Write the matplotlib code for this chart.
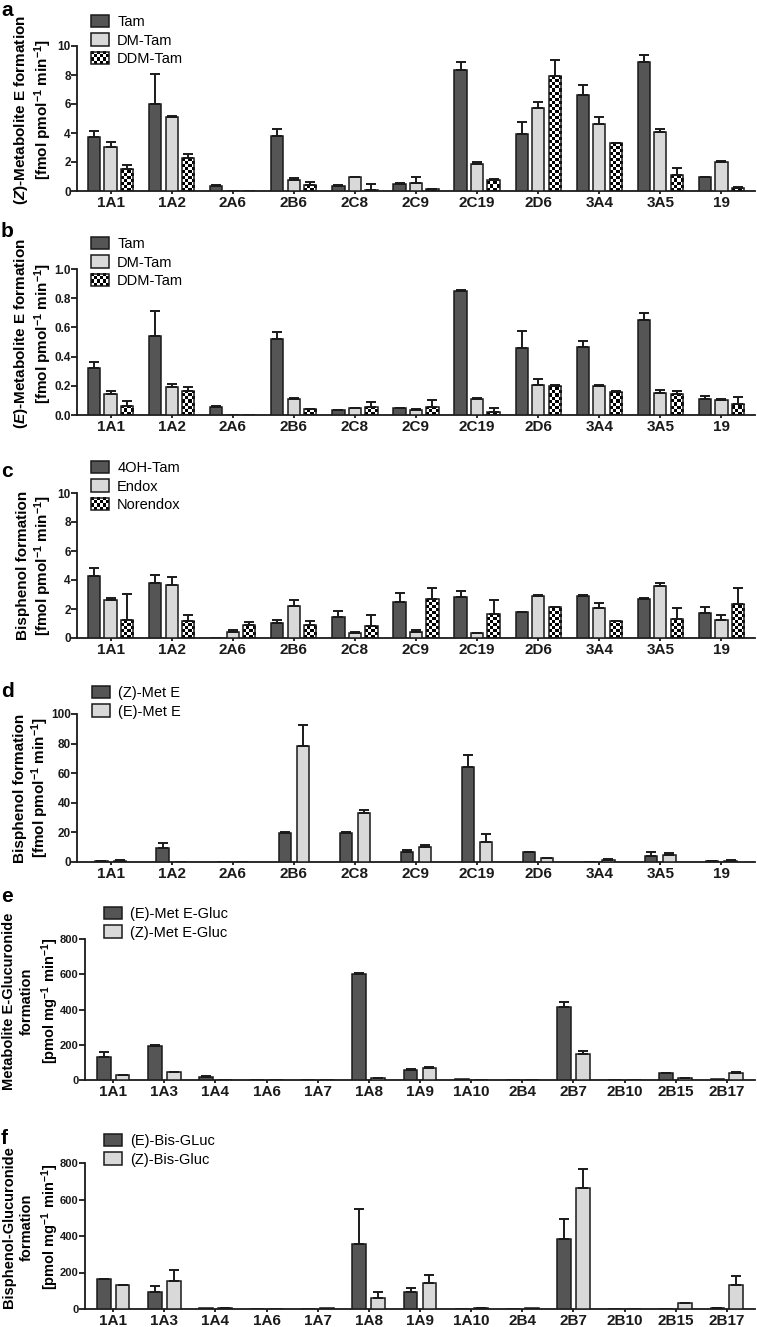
import numpy as np
import matplotlib
matplotlib.use("Agg")
import matplotlib.pyplot as plt
from matplotlib.patches import Rectangle, Patch
from matplotlib.image import BboxImage
from matplotlib.transforms import Bbox, TransformedBbox
from matplotlib.legend_handler import HandlerPatch
from matplotlib.colors import Normalize

plt.rcParams["font.family"] = ["Liberation Sans", "DejaVu Sans"]
plt.rcParams["mathtext.fontset"] = "custom"
plt.rcParams["mathtext.rm"] = "Liberation Sans:bold"
plt.rcParams["mathtext.bf"] = "Liberation Sans:bold"
plt.rcParams["mathtext.it"] = "Liberation Sans:italic:bold"
plt.rcParams["mathtext.default"] = "bf"

DARK = "#555555"
LIGHT = "#d9d9d9"
EDGE = "#1a1a1a"
W, H = 757, 1327

# ── data ─────────────────────────────────────────────────────────────
cyp = ["1A1", "1A2", "2A6", "2B6", "2C8", "2C9", "2C19", "2D6", "3A4", "3A5", "19"]
ugt = ["1A1", "1A3", "1A4", "1A6", "1A7", "1A8", "1A9", "1A10", "2B4", "2B7", "2B10", "2B15", "2B17"]

# a: (Z)-metabolite E formation
a_tam = [3.69, 6.03, 0.34, 3.81, 0.34, 0.50, 8.37, 3.90, 6.60, 8.92, 0.96]
a_tam_sd = [0.46, 2.02, 0.04, 0.46, 0.04, 0.03, 0.51, 0.89, 0.74, 0.48, 0.03]
a_dm = [3.05, 5.11, 0.02, 0.73, 0.96, 0.55, 1.86, 5.69, 4.63, 4.10, 2.00]
a_dm_sd = [0.35, 0.09, 0.0, 0.17, 0.03, 0.45, 0.11, 0.43, 0.46, 0.17, 0.05]
a_ddm = [1.49, 2.27, 0.02, 0.39, 0.10, 0.14, 0.76, 7.96, 3.28, 1.12, 0.23]
a_ddm_sd = [0.30, 0.28, 0.0, 0.21, 0.40, 0.02, 0.05, 1.10, 0.03, 0.44, 0.03]

# b: (E)-metabolite E formation
b_tam = [0.32, 0.54, 0.055, 0.52, 0.034, 0.045, 0.847, 0.462, 0.465, 0.648, 0.11]
b_tam_sd = [0.04, 0.17, 0.004, 0.047, 0.003, 0.006, 0.011, 0.11, 0.045, 0.05, 0.02]
b_dm = [0.142, 0.195, 0.002, 0.11, 0.048, 0.032, 0.112, 0.206, 0.201, 0.153, 0.10]
b_dm_sd = [0.023, 0.018, 0.0, 0.005, 0.002, 0.008, 0.002, 0.039, 0.002, 0.019, 0.01]
b_ddm = [0.062, 0.165, 0.002, 0.039, 0.057, 0.053, 0.023, 0.20, 0.158, 0.144, 0.076]
b_ddm_sd = [0.036, 0.03, 0.0, 0.003, 0.035, 0.05, 0.023, 0.005, 0.007, 0.023, 0.05]

# c: bisphenol formation from 4OH-Tam / Endox / Norendox
c_oh = [4.28, 3.80, 0.02, 1.03, 1.42, 2.47, 2.86, 1.78, 2.93, 2.68, 1.74]
c_oh_sd = [0.57, 0.57, 0.0, 0.21, 0.41, 0.62, 0.41, 0.04, 0.03, 0.07, 0.39]
c_endox = [2.61, 3.64, 0.41, 2.20, 0.34, 0.43, 0.34, 2.93, 2.10, 3.62, 1.21]
c_endox_sd = [0.18, 0.57, 0.16, 0.39, 0.05, 0.14, 0.02, 0.03, 0.28, 0.20, 0.35]
c_nor = [1.24, 1.14, 0.87, 0.87, 0.80, 2.68, 1.65, 2.13, 1.17, 1.30, 2.33]
c_nor_sd = [1.80, 0.46, 0.21, 0.27, 0.78, 0.75, 0.98, 0.03, 0.03, 0.76, 1.15]

# d: bisphenol formation from (Z)/(E)-Met E
d_z = [0.5, 9.7, 0.2, 19.5, 19.5, 6.8, 64.5, 6.6, 0.3, 4.1, 0.6]
d_z_sd = [0.2, 3.2, 0.0, 0.6, 0.6, 1.1, 7.9, 0.2, 0.0, 2.5, 0.1]
d_e = [0.8, 0.3, 0.2, 78.5, 33.3, 10.4, 13.3, 2.5, 1.6, 4.75, 0.9]
d_e_sd = [0.3, 0.0, 0.0, 13.8, 1.5, 1.4, 5.3, 0.3, 0.4, 1.15, 0.3]

# e: metabolite E glucuronide formation
e_egluc = [131, 192, 19, 0, 2, 599, 57, 7, 0, 415, 0, 38, 7]
e_egluc_sd = [30, 7, 2, 0, 0, 8, 3, 0, 0, 27, 0, 2, 0]
e_zgluc = [28, 45, 0, 0, 0, 9.5, 66, 2, 0, 146, 0, 11, 42]
e_zgluc_sd = [2, 3, 0, 0, 0, 1, 6, 0, 0, 19, 0, 1, 3]

# f: bisphenol glucuronide formation
f_ebis = [164, 93, 3, 2, 1, 354, 93, 2, 1, 382, 0, 2, 5]
f_ebis_sd = [3, 31, 0, 0, 0, 194, 20, 0, 0, 111, 0, 0, 1]
f_zbis = [131, 152, 5, 2, 3, 58, 144, 5, 3, 665, 0, 31, 130]
f_zbis_sd = [2, 63, 1, 0, 0, 33, 40, 1, 0, 104, 0, 4, 49]

UNIT_FMOL = "[fmol pmol$^{-1}$ min$^{-1}$]"
UNIT_PMOL = "[pmol mg$^{-1}$ min$^{-1}$]"


# ── helpers ──────────────────────────────────────────────────────────

def checker(ny, nx):
    return (np.add.outer(np.arange(ny), np.arange(nx)) % 2).astype(float)


class CheckerHandler(HandlerPatch):
    def create_artists(self, legend, orig_handle, xdescent, ydescent,
                       width, height, fontsize, trans):
        x0, y0 = -xdescent, -ydescent
        bb = TransformedBbox(Bbox.from_bounds(x0, y0, width, height), trans)
        img = BboxImage(bb, cmap="gray", norm=Normalize(0, 1), interpolation="nearest")
        img.set_data(checker(4, 6))
        frame = Rectangle((x0, y0), width, height, facecolor="none",
                          edgecolor=EDGE, lw=1.1, transform=trans)
        return [img, frame]


def px_rect(left, top, bottom, right=755):
    return [left / W, 1 - bottom / H, (right - left) / W, (bottom - top) / H]


def checker_fill(ax, bars, cell_px=3.0):
    ax_w = ax.get_position().width * W
    ax_h = ax.get_position().height * H
    x0, x1 = ax.get_xlim()
    y0, y1 = ax.get_ylim()
    sx = ax_w / (x1 - x0)
    sy = ax_h / (y1 - y0)
    for p in bars.patches:
        x, w, h = p.get_x(), p.get_width(), p.get_height()
        nx = max(1, int(round(w * sx / cell_px)))
        cell = cell_px / sy
        ny = max(1, int(np.ceil(h / cell)))
        im = ax.imshow(checker(ny, nx), cmap="gray", vmin=0, vmax=1,
                       interpolation="nearest", aspect="auto", origin="lower",
                       extent=[x, x + w, 0, ny * cell], zorder=2)
        im.set_clip_path(p)


def panel(rect, cats, series, ylim, yticks, fmt, ytick_fs, ylabel, label_xy,
          label_fs, label_ls, legend_at, width, offsets, letter, letter_at):
    ax = fig.add_axes(rect)
    x = np.arange(len(cats))
    xlim = (-0.55, len(cats) - 0.45)
    handles, hmap = [], {}
    checkers = []
    for (name, vals, sd, style), off in zip(series, offsets):
        vals = np.asarray(vals, float)
        sd = np.asarray(sd, float)
        if style == "checker":
            bars = ax.bar(x + off, vals, width, facecolor="none", edgecolor=EDGE,
                          linewidth=1.1, zorder=3)
            checkers.append(bars)
            h = Patch(facecolor="white", edgecolor=EDGE, label=name)
            hmap[h] = CheckerHandler()
        else:
            bars = ax.bar(x + off, vals, width, color=style, edgecolor=EDGE,
                          linewidth=1.1, zorder=3)
            h = Patch(facecolor=style, edgecolor=EDGE, linewidth=1.1, label=name)
        handles.append(h)
        m = (sd > 0) & (vals > 0)
        ax.errorbar(x[m] + off, vals[m], yerr=[np.zeros(m.sum()), sd[m]], fmt="none",
                    ecolor=EDGE, elinewidth=1.4, capsize=3.5, capthick=1.4, zorder=4)

    ax.set_xlim(*xlim)
    ax.set_ylim(*ylim)
    for bars in checkers:
        checker_fill(ax, bars)
    ax.set_xlim(*xlim)
    ax.set_ylim(*ylim)

    ax.set_xticks(x)
    ax.set_xticklabels(cats, fontsize=11, fontweight="bold")
    ax.set_yticks(yticks)
    ax.set_yticklabels([fmt.format(v) for v in yticks], fontsize=ytick_fs, fontweight="bold")
    for s in ("top", "right"):
        ax.spines[s].set_visible(False)
    for s in ("left", "bottom"):
        ax.spines[s].set_linewidth(1.3)
        ax.spines[s].set_color(EDGE)
    ax.tick_params(axis="y", length=4, width=1.3, pad=0.5, colors=EDGE)
    ax.tick_params(axis="x", length=2.5, width=1.3, pad=1, colors=EDGE)

    ax.set_ylabel(ylabel, fontsize=label_fs, fontweight="bold", linespacing=label_ls)
    ax.yaxis.set_label_coords(*label_xy)

    fig.legend(handles=handles, handler_map=hmap, loc="upper left",
               bbox_to_anchor=(legend_at[0] / W, 1 - legend_at[1] / H),
               bbox_transform=fig.transFigure, frameon=False, borderpad=0,
               borderaxespad=0, handlelength=1.2, handleheight=0.9,
               handletextpad=0.6, labelspacing=0.3, prop={"size": 10.5})

    fig.text(letter_at[0] / W, 1 - letter_at[1] / H, letter, fontsize=15,
             fontweight="bold", va="top", ha="left")
    return ax


fig = plt.figure(figsize=(W / 100, H / 100), dpi=100)

off3 = [-0.27, 0.0, 0.27]
off2 = [-0.15, 0.15]
off2u = [-0.185, 0.185]

panel(px_rect(77, 46, 191), cyp,
      [("Tam", a_tam, a_tam_sd, DARK), ("DM-Tam", a_dm, a_dm_sd, LIGHT),
       ("DDM-Tam", a_ddm, a_ddm_sd, "checker")],
      (0, 10), [0, 2, 4, 6, 8, 10], "{:g}", 8.5,
      "($\\mathit{Z}$)-Metabolite E formation\n" + UNIT_FMOL, (-0.034, 0.56), 11, 1.18,
      (91, 15), 0.2, off3, "a", (1, 1))

panel(px_rect(77, 269, 415), cyp,
      [("Tam", b_tam, b_tam_sd, DARK), ("DM-Tam", b_dm, b_dm_sd, LIGHT),
       ("DDM-Tam", b_ddm, b_ddm_sd, "checker")],
      (0, 1.0), [0.0, 0.2, 0.4, 0.6, 0.8, 1.0], "{:.1f}", 8.5,
      "($\\mathit{E}$)-Metabolite E formation\n" + UNIT_FMOL, (-0.034, 0.56), 11, 1.18,
      (91, 237), 0.2, off3, "b", (1, 222))

panel(px_rect(77, 493, 638), cyp,
      [("4OH-Tam", c_oh, c_oh_sd, DARK), ("Endox", c_endox, c_endox_sd, LIGHT),
       ("Norendox", c_nor, c_nor_sd, "checker")],
      (0, 10), [0, 2, 4, 6, 8, 10], "{:g}", 8.5,
      "Bisphenol formation\n" + UNIT_FMOL, (-0.034, 0.5), 11, 1.18,
      (91, 461), 0.2, off3, "c", (1, 462))

panel(px_rect(77, 714, 862), cyp,
      [("(Z)-Met E", d_z, d_z_sd, DARK), ("(E)-Met E", d_e, d_e_sd, LIGHT)],
      (0, 100), [0, 20, 40, 60, 80, 100], "{:g}", 8.5,
      "Bisphenol formation\n" + UNIT_FMOL, (-0.038, 0.5), 11, 1.18,
      (92, 686), 0.2, off2, "d", (1, 682))

panel(px_rect(85, 939, 1080), ugt,
      [("(E)-Met E-Gluc", e_egluc, e_egluc_sd, DARK),
       ("(Z)-Met E-Gluc", e_zgluc, e_zgluc_sd, LIGHT)],
      (0, 800), [0, 200, 400, 600, 800], "{:g}", 8,
      "Metabolite E-Glucuronide\nformation\n" + UNIT_PMOL, (-0.036, 0.56), 10.5, 1.35,
      (104, 907), 0.27, off2u, "e", (1, 887))

panel(px_rect(85, 1163, 1309), ugt,
      [("(E)-Bis-GLuc", f_ebis, f_ebis_sd, DARK),
       ("(Z)-Bis-Gluc", f_zbis, f_zbis_sd, LIGHT)],
      (0, 800), [0, 200, 400, 600, 800], "{:g}", 8,
      "Bisphenol-Glucuronide\nformation\n" + UNIT_PMOL, (-0.036, 0.56), 10.5, 1.35,
      (104, 1134), 0.27, off2u, "f", (1, 1129))

fig.savefig("out.png", dpi=100)
